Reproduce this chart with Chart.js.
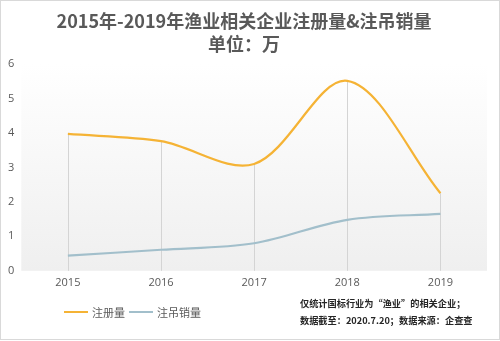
<!DOCTYPE html>
<html>
<head>
<meta charset="utf-8">
<script src="https://cdn.jsdelivr.net/npm/chart.js@4"></script>
<style>
  html, body { margin: 0; padding: 0; background: #fff; }
  #wrap { position: relative; width: 500px; height: 341px; }
  #chart { position: absolute; left: 0; top: 0; }
  .legend { position: absolute; left: 64px; top: 301px; font: 11px "Noto Sans CJK SC", sans-serif; color: #595959; }
  .legend span { display: inline-block; vertical-align: middle; }
  .legend .swatch { width: 24px; height: 2px; margin-right: 4px; }
  .legend .item { margin-right: 4px; }
  .note { position: absolute; left: 300px; top: 295px; font: bold 9.2px "Noto Sans CJK SC", sans-serif; color: #262626; line-height: 17px; }
</style>
</head>
<body>
<div id="wrap">
  <canvas id="chart" width="500" height="341"></canvas>
  <div class="legend" id="legend"></div>
  <div class="note">仅统计国标行业为“渔业”的相关企业；<br>数据截至：2020.7.20；数据来源：企查查</div>
</div>
<script>
const years = ["2015", "2016", "2017", "2018", "2019"];
const registered = [3.97, 3.76, 3.10, 5.51, 2.25];
const cancelled = [0.44, 0.61, 0.80, 1.48, 1.65];
const seriesNames = ["注册量", "注吊销量"];
const seriesColors = ["#f5b335", "#a2bfcb"];
const titleLines = ["2015年-2019年渔业相关企业注册量&注吊销量", "单位：万"];

// plot background gradient, page border and drop lines from the top series
const decor = {
    id: 'decor',
    beforeDraw(chart) {
        const ctx = chart.ctx;
        const a = chart.chartArea;
        ctx.save();
        ctx.fillStyle = '#fff';
        ctx.fillRect(0, 0, chart.width, chart.height);
        ctx.strokeStyle = '#d9d9d9';
        ctx.lineWidth = 1;
        ctx.strokeRect(0.5, 0.5, chart.width - 1, chart.height - 2);
        const g = ctx.createLinearGradient(0, a.top, 0, a.bottom);
        g.addColorStop(0, '#ffffff');
        g.addColorStop(1, '#efefef');
        ctx.fillStyle = g;
        ctx.fillRect(a.left, a.top - 3, a.right - a.left, a.bottom - a.top + 3);
        ctx.restore();
    },
    beforeDatasetsDraw(chart) {
        const ctx = chart.ctx;
        const pts = chart.getDatasetMeta(0).data;
        ctx.save();
        ctx.strokeStyle = '#d4d4d4';
        ctx.lineWidth = 1;
        pts.forEach(p => {
            const x = Math.round(p.x) + 0.5;
            ctx.beginPath();
            ctx.moveTo(x, p.y);
            ctx.lineTo(x, chart.chartArea.bottom);
            ctx.stroke();
        });
        ctx.restore();
    }
};

const chart = new Chart(document.getElementById('chart'), {
    type: 'line',
    data: {
        labels: years,
        datasets: [
            { label: seriesNames[0], data: registered, borderColor: seriesColors[0], backgroundColor: seriesColors[0] },
            { label: seriesNames[1], data: cancelled, borderColor: seriesColors[1], backgroundColor: seriesColors[1] }
        ]
    },
    options: {
        responsive: false,
        animation: false,
        layout: { padding: { left: 1, right: 13, top: 0, bottom: 47 } },
        elements: {
            line: { tension: 0.33, borderWidth: 2.2, fill: false },
            point: { radius: 0 }
        },
        plugins: {
            legend: { display: false },
            tooltip: { enabled: false },
            title: {
                display: true,
                text: titleLines,
                color: '#595959',
                font: { family: '"Noto Sans CJK SC", sans-serif', size: 18, weight: 'bold', lineHeight: 1.25 },
                padding: { top: 10, bottom: 9 }
            }
        },
        scales: {
            x: {
                offset: true,
                grid: { display: false, drawTicks: false },
                border: { display: false },
                ticks: { color: '#595959', font: { family: '"Open Sans", sans-serif', size: 11 }, padding: 5 }
            },
            y: {
                min: 0,
                max: 6,
                grid: { display: false, drawTicks: false },
                border: { display: false },
                ticks: { stepSize: 1, color: '#595959', font: { family: '"Open Sans", sans-serif', size: 11 }, padding: 7 }
            }
        }
    },
    plugins: [decor]
});

// html legend from the series arrays
document.getElementById('legend').innerHTML = seriesNames.map((n, i) =>
    '<span class="item"><span class="swatch" style="background:' + seriesColors[i] + '"></span><span>' + n + '</span></span>'
).join('');
</script>
</body>
</html>
